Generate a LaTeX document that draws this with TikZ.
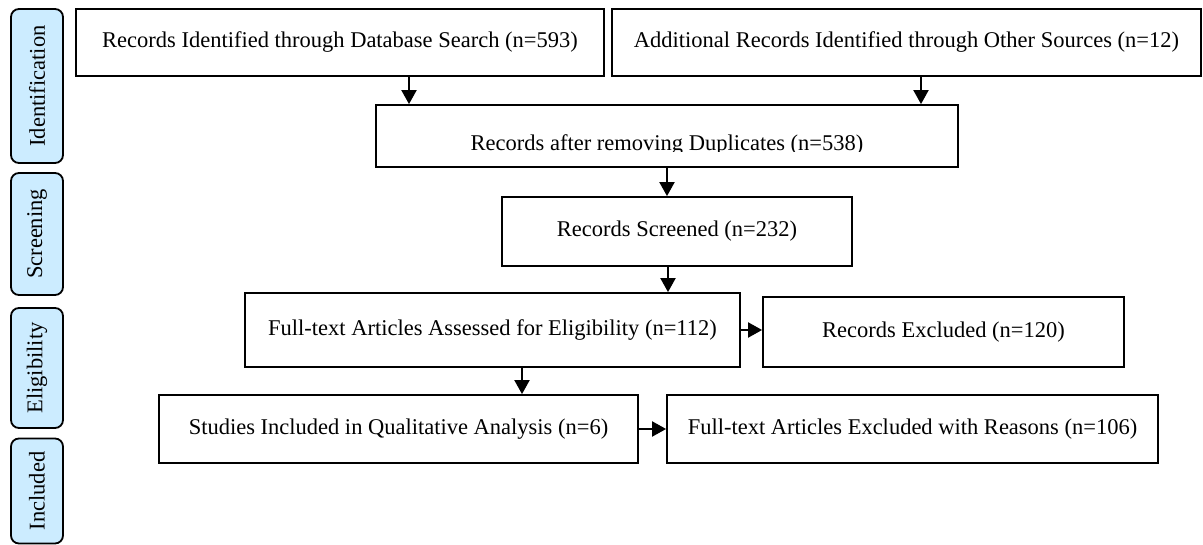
\documentclass[tikz,border=0pt]{standalone}
\usepackage{fontspec}
\setmainfont{Liberation Serif}
\usetikzlibrary{arrows.meta,calc}
\definecolor{phase}{HTML}{CCECFF}
\begin{document}
\begin{tikzpicture}[x=1pt,y=-1pt,
  every node/.style={font=\fontsize{22.5}{27}\selectfont},
  box/.style={draw=black, line width=1.8pt, rectangle, inner sep=0pt},
  phasebox/.style={draw=black, line width=1.8pt, fill=phase, rounded corners=8pt, rotate=90, inner sep=0pt, minimum height=52},
  arr/.style={line width=2pt, -{Triangle[width=15pt,length=14pt]}}]
\useasboundingbox (0,0) rectangle (1203,545);
% phase labels
\node[phasebox, minimum width=154] (p1) at (37,86) {Identification};
\node[phasebox, minimum width=122] (p2) at (37,234) {Screening};
\node[phasebox, minimum width=120] (p3) at (37,368) {Eligibility};
\node[phasebox, minimum width=105] (p4) at (37,491) {Included};
% boxes
\node[box, minimum width=528, minimum height=67] (a) at (340,42.5) {Records Identified through Database Search (n=593)};
\node[box, minimum width=589, minimum height=67] (b) at (906.5,42.5) {Additional Records Identified through Other Sources (n=12)};
\node[box, minimum width=582, minimum height=62] (c) at (667,136) {};
\begin{scope}
\clip (376,105) rectangle (958,152);
\node[anchor=base, inner sep=0pt] (ct) at (667,150.5) {Records after removing Duplicates (n=538)};
\end{scope}
\node[box, minimum width=350, minimum height=69] (d) at (677,231.5) {Records Screened (n=232)};
\node[box, minimum width=495, minimum height=74] (e) at (492.5,330) {Full-text Articles Assessed for Eligibility (n=112)};
\node[box, minimum width=361, minimum height=70] (f) at (943.5,332) {Records Excluded (n=120)};
\node[box, minimum width=479, minimum height=68] (g) at (398.5,429) {Studies Included in Qualitative Analysis (n=6)};
\node[box, minimum width=491, minimum height=68] (h) at (912.5,429) {Full-text Articles Excluded with Reasons (n=106)};
% connector guides
\coordinate (xa) at (409,0);
\coordinate (xb) at (921,0);
\coordinate (xd) at (668,0);
\coordinate (xe) at (522,0);
\draw[arr] (a.south -| xa) -- (c.north -| xa);
\draw[arr] (b.south -| xb) -- (c.north -| xb);
\draw[arr] (c.south) -- (c.south |- d.north);
\draw[arr] (d.south -| xd) -- (e.north -| xd);
\draw[arr] (e.east) -- (e.east -| f.west);
\draw[arr] (e.south -| xe) -- (g.north -| xe);
\draw[arr] (g.east) -- (h.west);
\end{tikzpicture}
\end{document}
